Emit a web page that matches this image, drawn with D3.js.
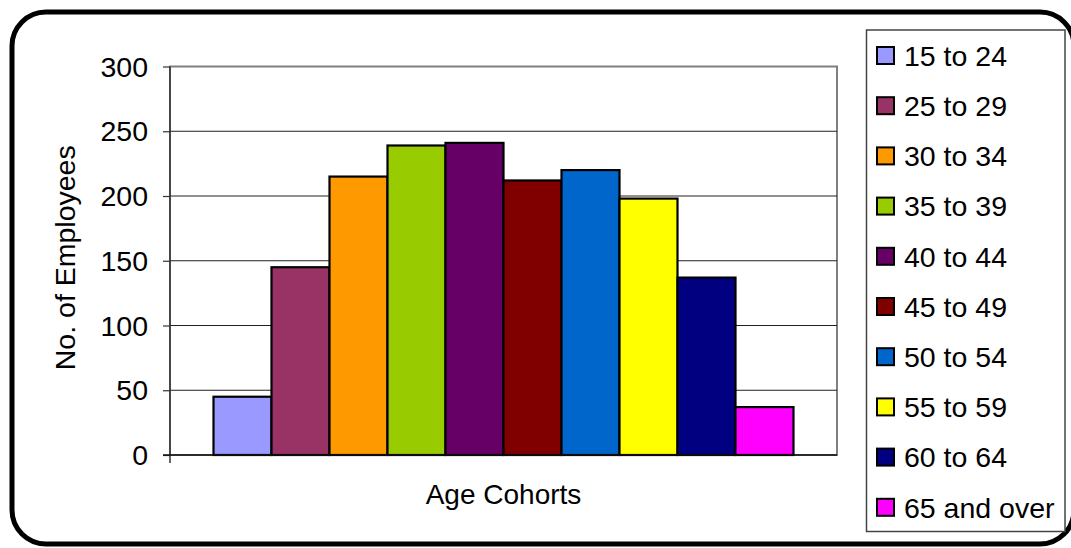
<!DOCTYPE html>
<html>
<head>
<meta charset="utf-8">
<script src="https://cdn.jsdelivr.net/npm/d3@7"></script>
<style>
  body { margin: 0; background: #fff; overflow: hidden; }
  svg text { font-family: "Liberation Sans", Arial, sans-serif; fill: #000; }
</style>
</head>
<body>
<div id="chart"></div>
<script>
// Age cohort data
var cohorts = ["15 to 24", "25 to 29", "30 to 34", "35 to 39", "40 to 44",
	"45 to 49", "50 to 54", "55 to 59", "60 to 64", "65 and over"];
var employees = [45, 145, 215, 239, 241, 212, 220, 198, 137, 37];
var colors = ["#9999ff", "#993366", "#ff9900", "#99cc00", "#660066",
	"#800000", "#0066cc", "#ffff00", "#000080", "#ff00ff"];
var y_ticks = [0, 50, 100, 150, 200, 250, 300];

var width = 1071;
var height = 548;

// plot area in pixels
var plot = { left: 170, top: 66.5, right: 837, bottom: 455 };

var svg = d3.select("#chart").append("svg")
	.attr("width", width)
	.attr("height", height);

// outer rounded frame, runs off the right edge
svg.append("rect")
	.attr("x", 12).attr("y", 12)
	.attr("width", 1062).attr("height", 532)
	.attr("rx", 34).attr("ry", 34)
	.style("fill", "#fff")
	.style("stroke", "#000")
	.style("stroke-width", 5);

var y_scale = d3.scaleLinear().domain([0, 300]).range([plot.bottom, plot.top]);

// one category holding ten series, gap width 150%
var bar_w = (plot.right - plot.left) / (cohorts.length + 1.5);
var group_x = plot.left + (plot.right - plot.left - bar_w * cohorts.length) / 2;
var x_scale = d3.scaleBand().domain(cohorts)
	.range([group_x, group_x + bar_w * cohorts.length]);

// plot area frame
svg.append("rect")
	.attr("x", plot.left).attr("y", plot.top)
	.attr("width", plot.right - plot.left)
	.attr("height", plot.bottom - plot.top)
	.style("fill", "#fff")
	.style("stroke", "#808080")
	.style("stroke-width", 2);

// gridlines
svg.append("g")
	.selectAll("line")
	.data(y_ticks.filter(function(d) { return d > 0 && d < 300; }))
	.enter().append("line")
	.attr("x1", plot.left).attr("x2", plot.right)
	.attr("y1", function(d) { return y_scale(d); })
	.attr("y2", function(d) { return y_scale(d); })
	.style("stroke", "#222")
	.style("stroke-width", 1.2);

// bars
svg.append("g")
	.selectAll("rect")
	.data(employees)
	.enter().append("rect")
	.attr("x", function(d, i) { return x_scale(cohorts[i]); })
	.attr("y", function(d) { return y_scale(d); })
	.attr("width", x_scale.bandwidth())
	.attr("height", function(d) { return y_scale(0) - y_scale(d); })
	.style("fill", function(d, i) { return colors[i]; })
	.style("stroke", "#000")
	.style("stroke-width", 2.2);

// y axis
var y_axis = d3.axisLeft(y_scale).tickValues(y_ticks).tickSize(7).tickPadding(15);
var yg = svg.append("g")
	.attr("transform", "translate(" + plot.left + ",0)")
	.call(y_axis);
yg.select(".domain").style("stroke", "#333").style("stroke-width", 1.5)
	.attr("d", "M0," + plot.top + "V" + (plot.bottom + 8));
yg.selectAll(".tick line").style("stroke", "#333").style("stroke-width", 1.2);
yg.selectAll(".tick text")
	.style("font-size", "28.5px")
	.style("font-family", "'Liberation Sans', Arial, sans-serif")
	.attr("dy", "0.34em");

// x axis baseline
svg.append("line")
	.attr("x1", plot.left - 7).attr("x2", plot.right)
	.attr("y1", plot.bottom).attr("y2", plot.bottom)
	.style("stroke", "#111")
	.style("stroke-width", 1.5);

// axis titles
svg.append("text")
	.attr("x", (plot.left + plot.right) / 2)
	.attr("y", 504)
	.attr("text-anchor", "middle")
	.style("font-size", "28px")
	.text("Age Cohorts");

svg.append("text")
	.attr("transform", "translate(75," + ((plot.top + plot.bottom) / 2 - 3) + ") rotate(-90)")
	.attr("text-anchor", "middle")
	.style("font-size", "28.5px")
	.text("No. of Employees");

// legend
var legend = svg.append("g");
legend.append("rect")
	.attr("x", 866.5).attr("y", 30)
	.attr("width", 198.5).attr("height", 501.5)
	.style("fill", "#fff")
	.style("stroke", "#444")
	.style("stroke-width", 1.5);

var items = legend.selectAll(".item")
	.data(cohorts)
	.enter().append("g")
	.attr("class", "item")
	.attr("transform", function(d, i) { return "translate(877," + (55.5 + i * 50.2) + ")"; });

items.append("rect")
	.attr("x", 0).attr("y", -8.5)
	.attr("width", 17).attr("height", 17)
	.style("fill", function(d, i) { return colors[i]; })
	.style("stroke", "#000")
	.style("stroke-width", 2);

items.append("text")
	.attr("x", 27)
	.attr("y", 0)
	.attr("dy", "0.36em")
	.style("font-size", "28.5px")
	.text(function(d) { return d; });
</script>
</body>
</html>
